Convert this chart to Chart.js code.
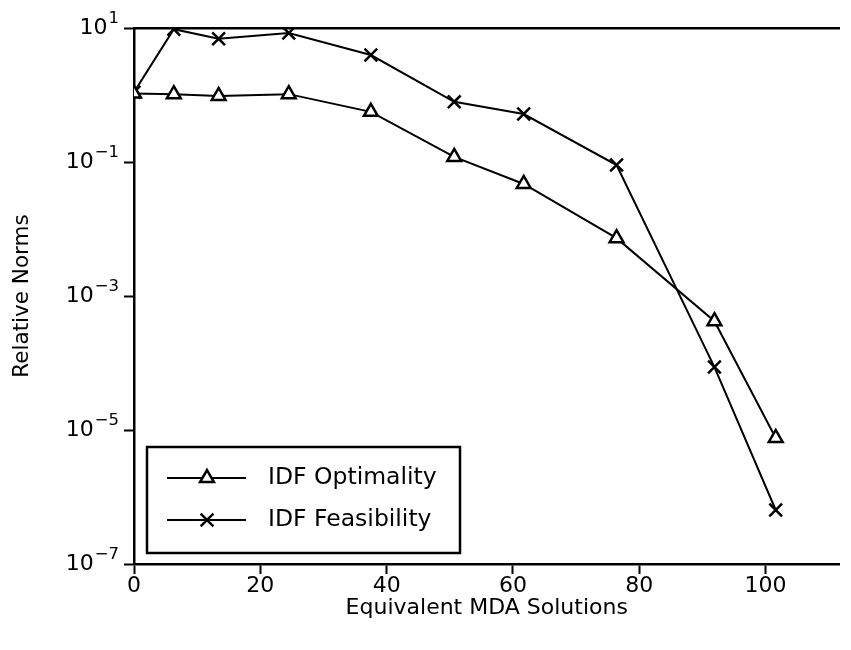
<!DOCTYPE html>
<html>
<head>
<meta charset="utf-8">
<script src="https://cdn.jsdelivr.net/npm/chart.js@4.4.0/dist/chart.umd.min.js"></script>
<style>
  html, body { margin: 0; padding: 0; background: #fff; }
  #wrap { width: 851px; height: 650px; }
</style>
</head>
<body>
<div id="wrap"><canvas id="chart"></canvas></div>
<script>
// values
const mdaSolutions = [0, 6.3, 13.4, 24.5, 37.5, 50.7, 61.7, 76.4, 91.9, 101.6];
const idfOptimality = [1.05, 1.03, 0.97, 1.03, 0.56, 0.119, 0.047, 0.0073, 4.2e-4, 7.6e-6];
const idfFeasibility = [1.1, 9.6, 6.9, 8.4, 3.95, 0.79, 0.52, 0.090, 8.7e-5, 6.4e-7];
const xTicks = [0, 20, 40, 60, 80, 100];
const yTickExponents = [1, -1, -3, -5, -7];

const FONT = "'DejaVu Sans', sans-serif";

function toPoints(ys) {
  return mdaSolutions.map((x, i) => ({ x: x, y: ys[i] }));
}

function expText(n) {
  return n < 0 ? '\u2212' + Math.abs(n) : String(n);
}

// y tick labels as 10 with a raised exponent
const powerLabels = {
  id: 'powerLabels',
  afterDraw(chart) {
    const ctx = chart.ctx;
    const scale = chart.scales.y;
    const right = scale.right - 15;
    ctx.save();
    ctx.fillStyle = '#000';
    ctx.textBaseline = 'middle';
    ctx.textAlign = 'right';
    yTickExponents.forEach(e => {
      const y = scale.getPixelForValue(Math.pow(10, e));
      ctx.font = '16.5px ' + FONT;
      const exp = expText(e);
      ctx.fillText(exp, right, y - 9);
      const w = ctx.measureText(exp).width;
      ctx.font = '22px ' + FONT;
      ctx.fillText('10', right - w - 1, y);
    });
    ctx.restore();
  }
};

// boxed legend in the lower left corner of the plot
const boxLegend = {
  id: 'boxLegend',
  afterDraw(chart) {
    const ctx = chart.ctx;
    const area = chart.chartArea;
    const left = area.left + 13;
    const bottom = area.bottom - 11;
    const w = 313, h = 106;
    const top = bottom - h;
    ctx.save();
    ctx.fillStyle = '#fff';
    ctx.fillRect(left, top, w, h);
    ctx.lineWidth = 2.5;
    ctx.strokeStyle = '#000';
    ctx.strokeRect(left, top, w, h);
    chart.data.datasets.forEach((ds, i) => {
      const y = top + 31 + i * 42;
      ctx.lineWidth = ds.borderWidth;
      ctx.strokeStyle = ds.borderColor;
      ctx.beginPath();
      ctx.moveTo(left + 20, y);
      ctx.lineTo(left + 99, y);
      ctx.stroke();
      ctx.fillStyle = ds.pointBackgroundColor;
      ctx.strokeStyle = ds.pointBorderColor;
      ctx.lineWidth = ds.pointBorderWidth;
      Chart.helpers.drawPoint(ctx, {
        pointStyle: ds.pointStyle,
        radius: ds.pointRadius,
        rotation: 0,
        borderWidth: ds.pointBorderWidth
      }, left + 60, y);
      ctx.fillStyle = '#000';
      ctx.font = '23.5px ' + FONT;
      ctx.textAlign = 'left';
      ctx.textBaseline = 'middle';
      ctx.fillText(ds.label, left + 121, y);
    });
    ctx.restore();
  }
};

new Chart(document.getElementById('chart'), {
  type: 'line',
  data: {
    datasets: [{
      label: 'IDF Optimality',
      data: toPoints(idfOptimality),
      borderColor: '#000',
      borderWidth: 2,
      pointStyle: 'triangle',
      pointRadius: 8,
      pointBorderWidth: 2.5,
      pointBorderColor: '#000',
      pointBackgroundColor: '#fff',
      clip: 0
    }, {
      label: 'IDF Feasibility',
      data: toPoints(idfFeasibility),
      borderColor: '#000',
      borderWidth: 2,
      pointStyle: 'crossRot',
      pointRadius: 9,
      pointBorderWidth: 2.5,
      pointBorderColor: '#000',
      pointBackgroundColor: '#000',
      clip: 0
    }]
  },
  options: {
    responsive: true,
    maintainAspectRatio: false,
    animation: false,
    layout: { padding: { top: 28, right: 0, left: 0, bottom: 0 } },
    plugins: {
      legend: { display: false },
      tooltip: { enabled: false }
    },
    scales: {
      x: {
        type: 'linear',
        min: 0,
        max: 111.7,
        z: 1,
        afterBuildTicks: s => { s.ticks = xTicks.map(v => ({ value: v })); },
        afterFit: s => { s.height = 86; },
        grid: { drawOnChartArea: false, drawTicks: true, tickLength: 10, tickWidth: 2, tickColor: '#000' },
        border: { display: true, color: '#000', width: 2.5 },
        ticks: { color: '#000', padding: -1, maxRotation: 0, font: { family: FONT, size: 22 } },
        title: {
          display: true,
          text: 'Equivalent MDA Solutions',
          color: '#000',
          font: { family: FONT, size: 22 },
          padding: { top: 0, bottom: 29 }
        }
      },
      x2: {
        type: 'linear',
        position: 'top',
        min: 0,
        max: 111.7,
        z: 1,
        afterFit: s => { s.height = 0; },
        grid: { display: false },
        ticks: { display: false },
        border: { display: true, color: '#000', width: 2.5 }
      },
      y: {
        type: 'logarithmic',
        min: 1e-7,
        max: 10,
        z: 1,
        afterBuildTicks: s => { s.ticks = yTickExponents.map(e => ({ value: Math.pow(10, e) })); },
        afterFit: s => { s.width = 134; },
        grid: { drawOnChartArea: false, drawTicks: true, tickLength: 10, tickWidth: 2, tickColor: '#000' },
        border: { display: true, color: '#000', width: 2.5 },
        ticks: { display: false },
        title: {
          display: true,
          text: 'Relative Norms',
          color: '#000',
          font: { family: FONT, size: 21.5 },
          padding: { top: 10, bottom: 0 }
        }
      }
    }
  },
  plugins: [powerLabels, boxLegend]
});
</script>
</body>
</html>
